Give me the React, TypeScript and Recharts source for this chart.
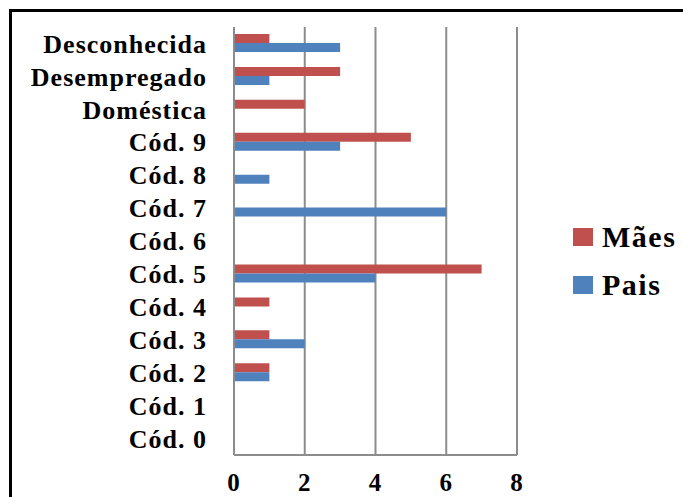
import { BarChart, Bar, XAxis, YAxis, CartesianGrid } from 'recharts';

const categories = ['Desconhecida', 'Desempregado', 'Doméstica', 'Cód. 9', 'Cód. 8', 'Cód. 7',
    'Cód. 6', 'Cód. 5', 'Cód. 4', 'Cód. 3', 'Cód. 2', 'Cód. 1', 'Cód. 0'];
const maes = [1, 3, 2, 5, 0, 0, 0, 7, 1, 1, 1, 0, 0];
const pais = [3, 1, 0, 3, 1, 6, 0, 4, 0, 2, 1, 0, 0];
const xTicks = [0, 2, 4, 6, 8];
const series = [
    { key: 'Mães', color: '#C0504D' },
    { key: 'Pais', color: '#4F81BD' },
];

const data = categories.map((name, i) => ({ name, 'Mães': maes[i], 'Pais': pais[i] }));

const serif = '"Liberation Serif", "Times New Roman", serif';
const gray = '#8c8c8c';

export default function App() {
    return (
        <div style={{ position: 'absolute', left: 0, top: 0, width: 683, height: 497, overflow: 'hidden', background: '#fff' }}>
            <div style={{ position: 'absolute', left: 9, top: 9, width: 800, height: 600,
                borderTop: '3px solid #000', borderLeft: '3px solid #000' }} />
            <BarChart width={683} height={497} data={data} layout="vertical"
                margin={{ top: 27, right: 166, bottom: 0, left: 0 }}
                barCategoryGap={7} barGap={0}
                style={{ position: 'absolute', left: 0, top: 0 }}>
                <CartesianGrid horizontal={false} stroke={gray} strokeWidth={2} />
                <XAxis type="number" domain={[0, 8]} ticks={xTicks} height={42}
                    tickSize={0} tickMargin={18} axisLine={{ stroke: gray, strokeWidth: 2 }} tickLine={false}
                    tick={{ fill: '#000', fontSize: 25, fontWeight: 'bold', fontFamily: serif, letterSpacing: 1 }} />
                <YAxis type="category" dataKey="name" width={234}
                    tickSize={0} tickMargin={27} axisLine={{ stroke: gray, strokeWidth: 2 }} tickLine={false}
                    interval={0}
                    tick={{ fill: '#000', fontSize: 26, fontWeight: 'bold', fontFamily: serif, letterSpacing: 1 }} />
                {series.map(s => (
                    <Bar key={s.key} dataKey={s.key} fill={s.color} isAnimationActive={false} />
                ))}
            </BarChart>
            {series.map((s, i) => (
                <div key={s.key} style={{ position: 'absolute', left: 573, top: 220 + i * 48, height: 34,
                    display: 'flex', alignItems: 'center' }}>
                    <div style={{ width: 20, height: 18, background: s.color }} />
                    <span style={{ marginLeft: 9, fontFamily: serif, fontWeight: 'bold', fontSize: 30,
                        letterSpacing: 1.5, color: '#000' }}>{s.key}</span>
                </div>
            ))}
        </div>
    );
}
